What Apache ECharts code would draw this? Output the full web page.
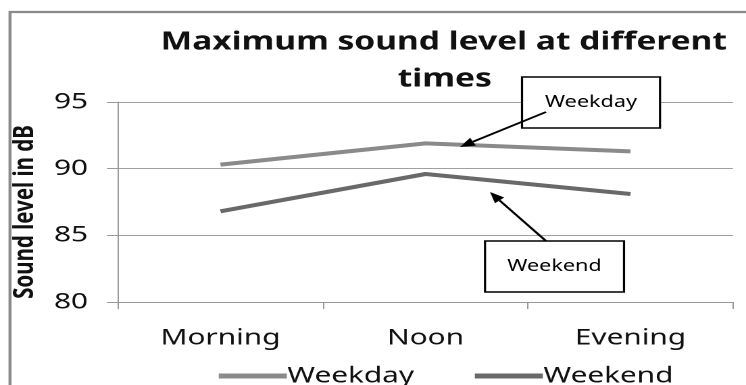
<!DOCTYPE html>
<html><head><meta charset="utf-8">
<script src="https://cdn.jsdelivr.net/npm/echarts@6/dist/echarts.min.js"></script>
<style>
html,body{margin:0;padding:0;background:#fff;overflow:hidden}
#wrap{width:746px;height:385px;overflow:hidden}
#c{width:552px;height:385px;transform:scaleX(1.35145);transform-origin:0 0}
</style>
</head><body><div id="wrap"><div id="c"></div></div>
<script>
const categories = ['Morning', 'Noon', 'Evening'];
const weekday = [90.3, 91.9, 91.3];
const weekend = [86.8, 89.6, 88.1];
const yTicks = [80, 85, 90, 95];
const seriesNames = ['Weekday', 'Weekend'];

// the source picture is stretched horizontally; the chart is drawn narrower and scaled
const S = 746 / 552;
const sx = v => v / S;
const FONT = 'Noto Sans';

function arrow(x1, y1, x2, y2) {
  x1 = sx(x1); x2 = sx(x2);
  const dx = x2 - x1, dy = y2 - y1, L = Math.hypot(dx, dy);
  const ux = dx / L, uy = dy / L, px = -uy, py = ux;
  const hl = 11, hw = 4.5;
  const bx = x2 - ux * hl, by = y2 - uy * hl;
  return [
    {type: 'line', shape: {x1: x1, y1: y1, x2: bx, y2: by}, style: {stroke: '#000', lineWidth: 1.8}, z: 100},
    {type: 'polygon', shape: {points: [[x2, y2], [bx + px * hw, by + py * hw], [bx - px * hw, by - py * hw]]}, style: {fill: '#000'}, z: 100}
  ];
}
function box(x, y, w, h, label) {
  x = sx(x); w = sx(w);
  return [
    {type: 'rect', shape: {x: x, y: y, width: w, height: h}, style: {fill: '#fff', stroke: '#000', lineWidth: 1.6}, z: 99},
    {type: 'text', x: x + w / 2, y: y + h / 2, style: {text: label, font: '16px "' + FONT + '"', fill: '#000', align: 'center', verticalAlign: 'middle'}, z: 101}
  ];
}

const chart = echarts.init(document.getElementById('c'), null, {renderer: 'canvas', devicePixelRatio: 2});
chart.setOption({
  backgroundColor: '#fff',
  animation: false,
  title: [
    {text: 'Maximum sound level at different', left: sx(437), top: 25, textAlign: 'center',
     textStyle: {fontFamily: FONT, fontWeight: 'bold', fontSize: 24.8, color: '#111'}},
    {text: 'times', left: sx(438), top: 62, textAlign: 'center',
     textStyle: {fontFamily: FONT, fontWeight: 'bold', fontSize: 24.8, color: '#111'}}
  ],
  grid: {left: sx(118), right: sx(13), top: 102, bottom: 83, containLabel: false},
  legend: {
    data: seriesNames, top: 360, left: sx(212), icon: 'rect', itemWidth: sx(68), itemHeight: 5, itemGap: 45,
    textStyle: {fontFamily: FONT, fontSize: 22, color: '#111', padding: [0, 0, 0, -4.5]}
  },
  xAxis: {
    type: 'category', data: categories, boundaryGap: true,
    axisLine: {lineStyle: {color: '#999', width: 1}},
    axisTick: {show: true, length: 7, lineStyle: {color: '#999'}},
    axisLabel: {fontFamily: FONT, fontSize: 22, color: '#111', margin: 25}
  },
  yAxis: {
    type: 'value', min: yTicks[0], max: yTicks[yTicks.length - 1], interval: 5,
    name: 'Sound level in dB', nameLocation: 'middle', nameRotate: 90, nameGap: 50,
    nameTextStyle: {fontFamily: FONT, fontWeight: 'bold', fontSize: 20.5, color: '#111', padding: [0, 20, 0, 0]},
    axisLine: {show: true, lineStyle: {color: '#999', width: 1}},
    axisTick: {show: true, inside: false, length: sx(11), lineStyle: {color: '#999'}},
    splitLine: {show: true, lineStyle: {color: '#a0a0a0', width: 1}},
    axisLabel: {fontFamily: FONT, fontSize: 22, color: '#111', margin: sx(30)}
  },
  series: [
    {name: seriesNames[0], type: 'line', data: weekday, symbol: 'none', lineStyle: {width: 4, color: '#8a8a8a'}, itemStyle: {color: '#8a8a8a'}},
    {name: seriesNames[1], type: 'line', data: weekend, symbol: 'none', lineStyle: {width: 4, color: '#696969'}, itemStyle: {color: '#696969'}}
  ],
  graphic: [
    {type: 'rect', shape: {x: sx(10), y: 12, width: 600, height: 400}, style: {fill: 'none', stroke: '#8a8a8a', lineWidth: 2.2}, z: 0, silent: true}
  ].concat(box(522, 77, 138, 51, 'Weekday'), arrow(546, 112, 460, 147),
           box(485, 241, 139, 51, 'Weekend'), arrow(546, 241, 490, 192))
});
</script></body></html>
